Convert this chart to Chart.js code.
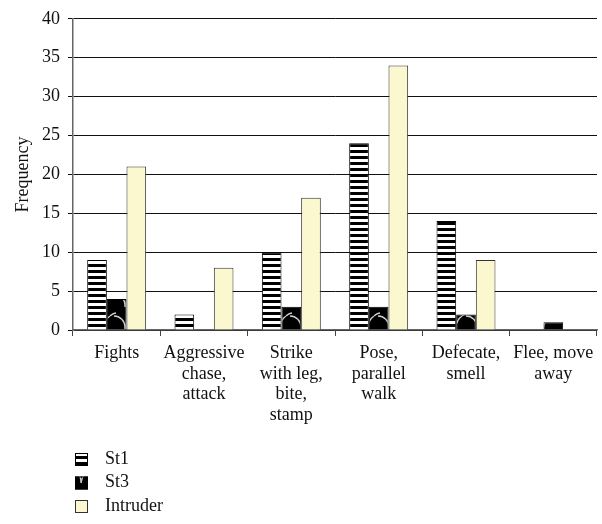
<!DOCTYPE html>
<html>
<head>
<meta charset="utf-8">
<script src="https://cdn.jsdelivr.net/npm/chart.js@4/dist/chart.umd.min.js"></script>
<style>
  html, body { margin: 0; padding: 0; background: #fff; }
</style>
</head>
<body>
<canvas id="c" width="602" height="524"></canvas>
<script>
// Behaviour categories (multi-line labels)
const categories = [
  ["Fights"],
  ["Aggressive", "chase,", "attack"],
  ["Strike", "with leg,", "bite,", "stamp"],
  ["Pose,", "parallel", "walk"],
  ["Defecate,", "smell"],
  ["Flee, move", "away"]
];
const seriesNames = ["St1", "St3", "Intruder"];
const st1 = [9, 2, 10, 24, 14, 0];
const st3 = [4, 0, 3, 3, 2, 1];
const intruder = [21, 8, 17, 34, 9, 0];
const yMax = 40;
const yStep = 5;

const FONT = '"Liberation Serif", "Times New Roman", serif';
const FS = 18;

// Horizontal black/white stripes
function stripePattern() {
  const c = document.createElement('canvas');
  c.width = 8; c.height = 6;
  const g = c.getContext('2d');
  g.fillStyle = '#fff'; g.fillRect(0, 0, 8, 6);
  g.fillStyle = '#000'; g.fillRect(0, 0, 8, 3);
  return g.createPattern(c, 'repeat');
}

// Black fill with thin light curved strokes
function crackPattern() {
  const c = document.createElement('canvas');
  c.width = 22; c.height = 22;
  const g = c.getContext('2d');
  g.fillStyle = '#000'; g.fillRect(0, 0, 22, 22);
  g.strokeStyle = '#cfcfcf'; g.lineWidth = 1.3;
  g.beginPath(); g.arc(4, 19, 11, -Math.PI / 2, 0.15); g.stroke();
  g.beginPath(); g.moveTo(15, 21); g.quadraticCurveTo(17, 11, 22, 8); g.stroke();
  g.beginPath(); g.moveTo(0, 8); g.quadraticCurveTo(3, 5, 6, 5); g.stroke();
  return g.createPattern(c, 'repeat');
}

const fills = [stripePattern(), crackPattern(), '#fbf7cf'];
const borders = ['#000', '#000', '#333'];
const values = [st1, st3, intruder];

// Vertical legend drawn under the axis labels
const stackedLegend = {
  id: 'stackedLegend',
  afterDraw(chart) {
    const ctx = chart.ctx;
    ctx.save();
    ctx.font = FS + 'px ' + FONT;
    ctx.textBaseline = 'middle';
    chart.data.datasets.forEach((ds, i) => {
      const y = 459 + i * 23.5;
      ctx.fillStyle = ds.backgroundColor;
      ctx.fillRect(75, y - 6, 13, 13);
      ctx.strokeStyle = ds.borderColor;
      ctx.lineWidth = 1;
      ctx.strokeRect(75.5, y - 5.5, 12, 12);
      ctx.fillStyle = '#111';
      ctx.fillText(ds.label, 105, y);
    });
    ctx.restore();
  }
};

new Chart(document.getElementById('c'), {
  type: 'bar',
  data: {
    labels: categories,
    datasets: seriesNames.map((name, i) => ({
      label: name,
      data: values[i],
      backgroundColor: fills[i],
      borderColor: borders[i],
      borderWidth: 1,
      borderSkipped: 'bottom',
      barPercentage: 1,
      categoryPercentage: 0.675
    }))
  },
  options: {
    responsive: false,
    animation: false,
    devicePixelRatio: 1,
    layout: { padding: { left: 0, top: 17, right: 5, bottom: 0 } },
    plugins: {
      legend: { display: false },
      tooltip: { enabled: false }
    },
    scales: {
      x: {
        afterFit(scale) { scale.height = 194; },
        grid: {
          offset: true,
          drawOnChartArea: false,
          drawTicks: true,
          tickLength: 6,
          color: '#444'
        },
        border: { color: '#666', width: 1.5 },
        ticks: {
          color: '#111',
          maxRotation: 0,
          autoSkip: false,
          padding: 7,
          font: { family: FONT, size: FS, lineHeight: 1.14 }
        }
      },
      y: {
        min: 0,
        max: yMax,
        afterFit(scale) { scale.width = 73; },
        grid: {
          color: '#111',
          lineWidth: 1,
          tickLength: 5,
          drawTicks: true
        },
        border: { color: '#666', width: 1.5 },
        ticks: {
          stepSize: yStep,
          color: '#111',
          padding: 8,
          font: { family: FONT, size: FS }
        },
        title: {
          display: true,
          text: 'Frequency',
          color: '#111',
          padding: { top: 12, bottom: 0 },
          font: { family: FONT, size: FS, lineHeight: 1.2 }
        }
      }
    }
  },
  plugins: [stackedLegend]
});
</script>
</body>
</html>
